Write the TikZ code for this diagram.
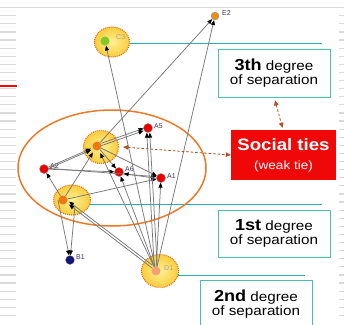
\documentclass[tikz,border=0pt]{standalone}
\usepackage{fontspec}
\setmainfont{Liberation Sans}
\usepackage{graphicx}
\usetikzlibrary{arrows.meta,shapes.geometric}
\definecolor{teal1}{RGB}{70,195,170}
\definecolor{tealln}{RGB}{40,175,175}
\definecolor{tiered}{RGB}{240,8,8}
\definecolor{ringor}{RGB}{238,122,40}
\definecolor{dotor}{RGB}{225,110,30}
\definecolor{dashbr}{RGB}{178,80,35}
\definecolor{yelin}{RGB}{255,240,150}
\definecolor{yelout}{RGB}{250,205,60}
\definecolor{edgegray}{RGB}{120,120,120}
\definecolor{stripe}{RGB}{218,218,218}
\definecolor{lbl}{RGB}{55,55,85}
\newcommand{\widen}[1]{\scalebox{1.13}[1]{#1}}
\begin{document}
\begin{tikzpicture}[x=1pt,y=-1pt,
  group/.style={ellipse, draw=dotor, dash pattern=on 0.9pt off 1.1pt, line width=1.2pt, inner color=yelin, outer color=yelout, inner sep=0pt},
  dot/.style={circle, inner sep=0pt, minimum size=9pt, draw=black!45, line width=0.3pt},
  edge/.style={draw=edgegray, line width=0.75pt, -{Triangle[length=5pt,width=4pt,color=black]}},
  nlabel/.style={font=\fontsize{7}{7}\selectfont, text=lbl, inner sep=0pt, anchor=west},
  degbox/.style={draw=teal1, line width=0.9pt, fill=white, minimum width=112pt, align=center, inner sep=0pt, font=\fontsize{13.5}{14.3}\selectfont},
  tealline/.style={draw=tealln, line width=1.3pt},
  weak/.style={dashed, dash pattern=on 2.5pt off 2pt, draw=dashbr, line width=0.8pt, {Triangle[length=5pt,width=4.5pt]}-{Triangle[length=5pt,width=4.5pt]}},
  stripeline/.style={draw=stripe, line width=1.2pt}
]
\useasboundingbox (0,0) rectangle (344,324);
\fill[white] (0,0) rectangle (344,324);
% background decoration
\draw[draw=stripe, line width=0.8pt] (0,7) -- (344,7);
\foreach \y in {15.7,23.8,...,322} {
  \draw[stripeline] (0,\y) -- (16,\y);
  \draw[stripeline] (339,\y) -- (344,\y);
}
\draw[draw=tiered, line width=1.4pt] (0,86) -- (17,86);

% teal connector lines (drawn first, under everything)
\coordinate (t3) at (322,43.5);
\coordinate (t1) at (322,204.5);
\coordinate (t2) at (305,275.5);
\coordinate (s3) at (125,43.5);
\coordinate (s1) at (85,204.5);
\coordinate (s2) at (172,275.5);
\draw[tealline] (s3) -- (t3);
\draw[tealline] (s1) -- (t1);
\draw[tealline] (s2) -- (t2);

% big ring
\node[ellipse, draw=ringor, line width=1.5pt, minimum width=188pt, minimum height=116pt, inner sep=0pt] (ring) at (112,168) {};

% groups
\node[group, minimum width=35pt, minimum height=30pt] (C3e) at (112,42) {};
\node[group, minimum width=35pt, minimum height=33pt] (Cue) at (101,147) {};
\node[group, minimum width=37pt, minimum height=30pt] (Cle) at (72,200) {};
\node[group, minimum width=37pt, minimum height=33pt] (De) at (160,271) {};

% dots
\node[dot, fill={rgb,255:red,130;green,200;blue,40}, draw=none] (C3) at (105,41) {};
\node[dot, fill={rgb,255:red,240;green,120;blue,20}, draw=none] (Cu) at (97,146) {};
\node[dot, fill={rgb,255:red,240;green,120;blue,20}, draw=none] (Cl) at (63,200) {};
\node[dot, fill={rgb,255:red,245;green,160;blue,115}, draw=none] (D1) at (156,271) {};
\node[dot, fill={rgb,255:red,240;green,140;blue,30}, minimum size=8pt] (E2) at (215,16) {};
\node[dot, fill={rgb,255:red,235;green,0;blue,0}] (A5) at (148,128) {};
\node[dot, fill={rgb,255:red,235;green,0;blue,0}] (A2) at (44,169) {};
\node[dot, fill={rgb,255:red,235;green,0;blue,0}] (A6) at (119,172) {};
\node[dot, fill={rgb,255:red,235;green,0;blue,0}] (A1) at (161,178) {};
\node[dot, fill={rgb,255:red,20;green,20;blue,120}] (B1) at (70,260) {};

% labels
\node[nlabel, text=black!35] (lC3) at (116,37) {C3};
\node[nlabel] (lE2) at (222,13) {E2};
\node[nlabel] (lA5) at (154,126) {A5};
\node[nlabel] (lA2) at (50,166) {A2};
\node[nlabel] (lA6) at (125,169) {A6};
\node[nlabel] (lA1) at (167,176) {A1};
\node[nlabel] (lB1) at (76,257) {B1};
\node[nlabel, text=black!35] (lD1) at (164,268) {D1};

% edges
\draw[edge] (D1) -- (C3);
\draw[edge] (D1) -- (E2);
\draw[edge] (Cu) -- (E2);
\draw[edge, transform canvas={yshift=1.2pt}] (Cu) -- (A5);
\draw[edge, transform canvas={yshift=-1.2pt}] (Cu) -- (A5);
\draw[edge, shorten >=2pt] (A2) -- (Cu);
\draw[edge, shorten >=2pt, transform canvas={yshift=-1.5pt}] (A2) -- (Cu);
\draw[edge] (A2) -- (A6);
\draw[edge, transform canvas={yshift=1pt}] (A2) -- (A1);
\draw[edge, transform canvas={yshift=-1pt}] (A1) -- (A6);
\draw[edge] (Cl) -- (A2);
\draw[edge] (Cl) -- (A1);
\draw[edge] (Cu) -- (A6);
\draw[edge] (Cu) -- (A1);
\draw[edge, shorten >=3pt] (Cl) -- (Cu);
\draw[edge] ([xshift=-5pt]Cl.center) -- (B1);
\draw[edge] ([xshift=12pt,yshift=-6pt]Cl.center) -- (B1);
\draw[edge, transform canvas={xshift=-1.5pt}] (D1) -- (A5);
\draw[edge, transform canvas={xshift=1.5pt}] (D1) -- (A5);
\draw[edge] (D1) -- (A1);
\draw[edge] (D1) -- (A6);
\draw[edge, shorten >=3pt] (D1) -- (Cu);
\draw[edge, shorten >=3pt] (D1) -- (Cl);
\draw[edge, shorten >=3pt, transform canvas={yshift=3pt}] (D1) -- (Cl);

% boxes
\node[degbox, minimum height=48pt] (third) at (274,73)
  {\widen{{\bfseries\fontsize{16}{16}\selectfont 3th} degree}\\\widen{of separation}};
\node[degbox, minimum height=47pt] (first) at (274,233.5)
  {\widen{{\bfseries\fontsize{16}{16}\selectfont 1st} degree}\\\widen{of separation}};
\node[degbox, minimum height=48pt] (second) at (256,304)
  {\widen{{\bfseries\fontsize{16}{16}\selectfont 2nd} degree}\\\widen{of separation}};
\node[fill=tiered, minimum width=105pt, minimum height=50pt, inner sep=0pt, align=center, text=white,
  font=\fontsize{12}{20}\selectfont] (social) at (283.5,155)
  {\widen{\bfseries\fontsize{16.5}{16.5}\selectfont Social ties}\\[-1pt]\widen{(weak tie)}};

% weak tie arrows
\draw[weak] ([xshift=4pt]Cue.east) -- (social.west);
\draw[weak] ([xshift=1pt,yshift=-3pt]third.south) -- ([xshift=-1pt,yshift=2pt]social.north);
\end{tikzpicture}
\end{document}
